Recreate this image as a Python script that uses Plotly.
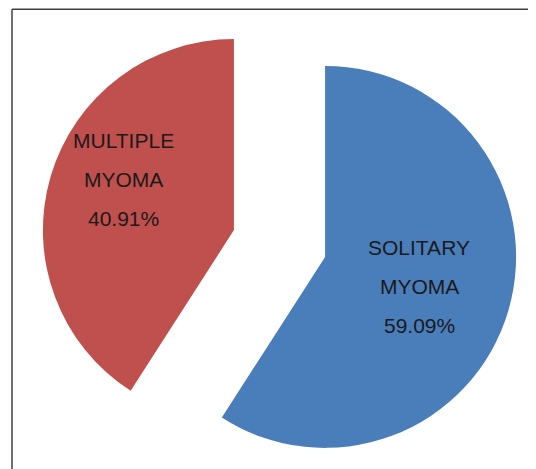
import math
import plotly.graph_objects as go

# data
labels = ["SOLITARY MYOMA", "MULTIPLE MYOMA"]
counts = [13, 9]
colors = ["#4A7EBB", "#C0504D"]

total = sum(counts)
pct = [c / total * 100 for c in counts]

# the page has an 8px body margin, so the figure is 8px smaller than the window
W, H = 528, 461

# exploded pie: common centre, radius and explode distance (pixels)
cx, cy, R, explode = 271.5, 235.5, 191, 47.5

fig = go.Figure()

# one pie per slice so each one can be pushed out along its own bisector
start = 0
for k, (lab, c) in enumerate(zip(labels, counts)):
    mid = math.radians((start + c / 2) / total * 360)
    start += c
    sx = cx + explode * math.sin(mid)
    sy = cy - explode * math.cos(mid)
    slice_colors = ["rgba(0,0,0,0)"] * len(counts)
    slice_colors[k] = colors[k]
    hov = ["none"] * len(counts)
    hov[k] = "label+percent"
    fig.add_trace(go.Pie(
        labels=labels,
        values=counts,
        sort=False,
        direction="clockwise",
        rotation=0,
        marker=dict(colors=slice_colors, line=dict(width=0)),
        textinfo="none",
        hoverinfo=hov,
        showlegend=False,
        domain=dict(x=[(sx - R) / W, (sx + R) / W],
                    y=[1 - (sy + R) / H, 1 - (sy - R) / H]),
    ))

# label text, one annotation per line so the spacing matches the original
label_pos = [(411, 239.5), (115.5, 132)]  # pixel centre of the first line
step = 39
for lab, p, (px, py) in zip(labels, pct, label_pos):
    lines = lab.split(" ") + ["%.2f%%" % p]
    for i, line in enumerate(lines):
        fig.add_annotation(
            x=px / W, y=1 - (py + i * step) / H,
            xref="paper", yref="paper", xanchor="center", yanchor="middle",
            text=line, showarrow=False,
            font=dict(family="Liberation Sans, Arial", size=21, color="#1a1a1a"),
        )

# outer frame: only the top and left edges are visible in the cropped source
frame = dict(color="#404040", width=1.5)
top = 1 - 1.2 / H
left = 4 / W
fig.add_shape(type="line", xref="paper", yref="paper",
              x0=left, x1=1, y0=top, y1=top, line=frame)
fig.add_shape(type="line", xref="paper", yref="paper",
              x0=left, x1=left, y0=0, y1=top, line=frame)

fig.update_layout(
    width=W, height=H,
    margin=dict(l=0, r=0, t=0, b=0),
    paper_bgcolor="white",
    plot_bgcolor="white",
)

fig.write_html("out.html")
